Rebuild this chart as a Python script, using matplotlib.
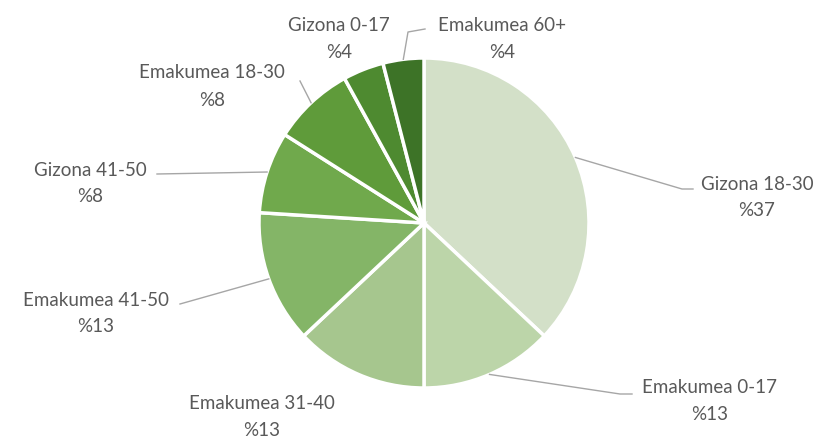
import numpy as np
import matplotlib
matplotlib.use('Agg')
import matplotlib.pyplot as plt

plt.rcParams['font.family'] = ['Lato', 'DejaVu Sans']

labels = ['Gizona 18-30', 'Emakumea 0-17', 'Emakumea 31-40', 'Emakumea 41-50',
          'Gizona 41-50', 'Emakumea 18-30', 'Gizona 0-17', 'Emakumea 60+']
values = [37, 13, 13, 13, 8, 8, 4, 4]
colors = ['#d3e0c8', '#bcd5a9', '#a6c68e', '#84b567',
          '#70a94c', '#5f9b3a', '#4e8a30', '#3d7327']

W, H = 825, 439
def py(y):
    # pixel row -> data y
    return H - y

# label centre (x, y of first line) and leader path, in pixel coords
label_pos = [(757, 184), (710, 388), (262, 404), (96, 300),
             (90, 170), (212, 73), (339, 25), (502, 25)]
leader_pts = [[(682, 190), (693, 190)], [(620, 395), (632, 395)], None,
              [(180, 305)], [(157, 175)], [(300, 82)], None,
              [(408, 33), (425, 30)]]

fig = plt.figure(figsize=(8.25, 4.39), dpi=100)
ax = fig.add_axes([0, 0, 1, 1])

cx, cy, r = 424, py(224), 165
wedges, _ = ax.pie(values, colors=colors, startangle=90, counterclock=False,
                   center=(cx, cy), radius=r, frame=True,
                   wedgeprops=dict(edgecolor='white', linewidth=2.5))
ax.set_xlim(0, W)
ax.set_ylim(0, H)
ax.set_aspect('equal')
ax.axis('off')

for w, lab, v, pos, pts in zip(wedges, labels, values, label_pos, leader_pts):
    ang = np.deg2rad((w.theta1 + w.theta2) / 2)
    ex, ey = cx + r * np.cos(ang), cy + r * np.sin(ang)
    if pts is not None:
        xs = [ex] + [p[0] for p in pts]
        ys = [ey] + [py(p[1]) for p in pts]
        ax.plot(xs, ys, color='#a6a6a6', lw=1)
    ax.text(pos[0], py(pos[1]), lab, ha='center', va='center',
            fontsize=13.5, color='#595959')
    ax.text(pos[0], py(pos[1] + 27), f'%{v}', ha='center', va='center',
            fontsize=13.5, color='#595959')

fig.savefig('out.png', dpi=100)
